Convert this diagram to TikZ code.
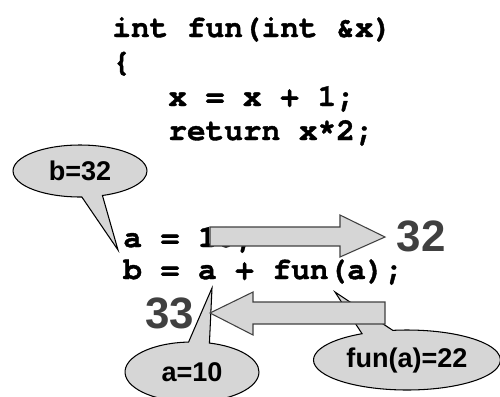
\documentclass[tikz,border=0pt]{standalone}
\usepackage{fontspec}
\setmainfont{Liberation Sans}
\setmonofont[BoldFeatures={FakeBold=1.2}]{TeX Gyre Cursor}
\usetikzlibrary{shapes.callouts}

\begin{document}
\begin{tikzpicture}[x=0.02cm,y=-0.02cm, code/.style={anchor=base west,inner sep=0,
  font=\ttfamily\bfseries\fontsize{17.7}{20}\selectfont},
  bubble/.style={ellipse callout,draw,line width=0.6pt,fill=black!16,inner sep=0,
  font=\bfseries\fontsize{15.4}{18}\selectfont,callout pointer arc=18},
  bignum/.style={inner sep=0,text=black!75,font=\bfseries\fontsize{25}{30}\selectfont},
  fatarrow/.style={draw=black!75,line width=0.6pt,fill=black!16}]
\useasboundingbox (0,0) rectangle (500,396);
\node[code] (l1) at (112,37) {int fun(int \&x)};
\node[code] (l2) at (112,71) {\{};
\node[code] (l3) at (168,106) {x = x + 1;};
\node[code] (l4) at (168,140) {return x*2;};
\node[code] (la) at (123,247) {a = 10;};
\node[code] (lb) at (123,279) {b = a + fun(a);};
\coordinate (btip) at (118,250);
\coordinate (atip) at (212,288);
\coordinate (ftip) at (335,292);
\node[bubble,minimum width=2.68cm,minimum height=1.04cm,callout absolute pointer={(btip)}] (bval) at (80,171) {b=32};
\node[bubble,minimum width=2.68cm,minimum height=1.2cm,callout absolute pointer={(atip)}] (aval) at (192,372) {a=10};
\node[bubble,minimum width=3.74cm,minimum height=1.2cm,callout pointer arc=20,callout absolute pointer={(ftip)}] (fval) at (407,360) {fun(a)=22};
\coordinate (rtip) at (385,237);
\coordinate (ltip) at (210,313);
\draw[fatarrow] (rtip) -- (340,215) -- (340,227) -- (210,227) -- (210,246) -- (340,246) -- (340,257) -- cycle;
\draw[fatarrow] (ltip) -- (253,292) -- (253,302) -- (385,302) -- (385,324) -- (253,324) -- (253,335) -- cycle;
\node[bignum] (n32) at (421,236) {32};
\node[bignum] (n33) at (170,313) {33};
\end{tikzpicture}
\end{document}
